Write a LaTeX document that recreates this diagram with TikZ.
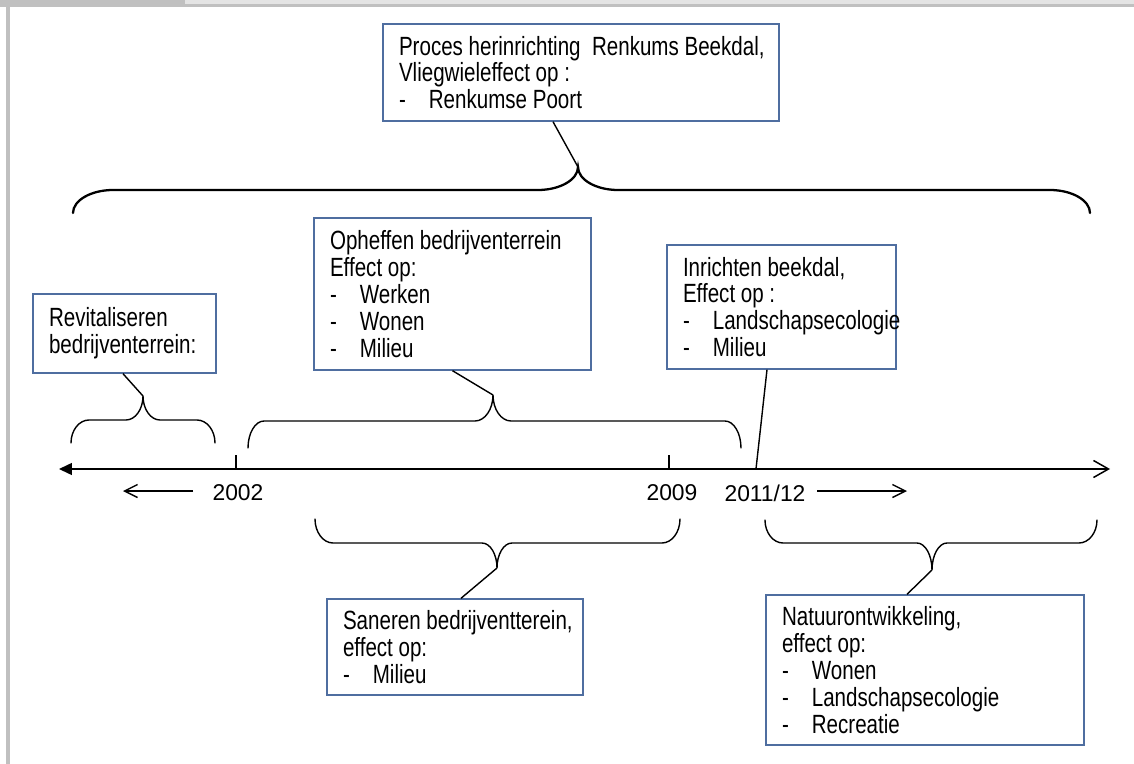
\documentclass[tikz,border=0pt]{standalone}
\usepackage{fontspec}
\usepackage{xcolor}
\definecolor{kaderblauw}{RGB}{79,110,160}
\definecolor{balkdonker}{RGB}{192,192,192}
\definecolor{balklicht}{RGB}{228,228,228}
\newfontfamily\kaderfont[FakeStretch=0.78]{Liberation Sans}
\newfontfamily\jaarfont{Liberation Sans}
\usepackage{tikz}
\usetikzlibrary{arrows.meta}
\tikzset{
  kader/.style={draw=kaderblauw,line width=0.8pt,fill=white,inner xsep=0pt,inner ysep=0pt,
    font=\kaderfont\fontsize{15}{15.3}\selectfont},
  accolade/.style={line width=0.8pt,line cap=round},
  jaar/.style={font=\jaarfont\fontsize{13}{15}\selectfont,inner sep=0pt},
  pijl/.tip={Straight Barb[length=0.26cm,width=0.26cm]}
}
\newcommand{\streep}{\makebox[17pt][l]{-}}
\newcommand{\kadertekst}[2]{\hspace*{0.32cm}\parbox{#1}{\raggedright\hyphenpenalty=10000 #2}}
% accolade: x1,x2,xtop,yeind,ylijn,ytop,hoek,punt
\newcommand{\accolade}[9][]{\draw[accolade,#1] (#2,#5) .. controls (#2,#5+#6*0.55-#5*0.55) and (#2+#8*0.45,#6) .. (#2+#8,#6)
  -- (#4-#9,#6) .. controls (#4-#9*0.45,#6) and (#4,#6+#7*0.45-#6*0.45) .. (#4,#7)
  .. controls (#4,#6+#7*0.45-#6*0.45) and (#4+#9*0.45,#6) .. (#4+#9,#6)
  -- (#3-#8,#6) .. controls (#3-#8*0.45,#6) and (#3,#5+#6*0.55-#5*0.55) .. (#3,#5);}

\begin{document}
\begin{tikzpicture}[x=0.02cm,y=-0.02cm]
\useasboundingbox (0,0) rectangle (1134,764);
% ---- rand ----
\fill[balklicht] (0,0) rectangle (1134,4);
\fill[balkdonker] (0,4) rectangle (1134,7);
\fill[balkdonker] (0,0) rectangle (185,7);
\fill[balkdonker] (6,7) rectangle (10,764);
% ---- tijdlijn ----
\draw[line width=0.85pt,{Triangle[length=0.26cm,width=0.24cm]}-{Straight Barb[length=0.3cm,width=0.34cm]}] (59,469) -- (1110,469);
\draw[line width=0.8pt] (236,455) -- (236,469);
\draw[line width=0.8pt] (669,455) -- (669,469);
\node[jaar] (j2002) at (238,493) {2002};
\node[jaar] (j2009) at (672,493) {2009};
\node[jaar] (j2011) at (765,493) {2011/12};
\coordinate (terug) at (123,491);
\coordinate (verder) at (907,491);
\draw[line width=0.8pt,-pijl] (193,491) -- (terug);
\draw[line width=0.8pt,-pijl] (817,491) -- (verder);
% ---- kaders ----
\node[kader,minimum height=1.94cm] (proces) at (581,72.5)
  {\kadertekst{7.60cm}{Proces herinrichting\ \ Renkums Beekdal,\\Vliegwieleffect op :\\\streep Renkumse Poort}};
\node[kader,minimum height=1.58cm] (revit) at (124.5,333.5)
  {\kadertekst{3.34cm}{Revitaliseren\\bedrijventerrein:}};
\node[kader,minimum height=3.04cm] (opheffen) at (452.5,294)
  {\kadertekst{5.22cm}{Opheffen bedrijventerrein\\Effect op:\\\streep Werken\\\streep Wonen\\\streep Milieu}};
\node[kader,minimum height=2.48cm] (inrichten) at (781.5,307)
  {\kadertekst{4.26cm}{Inrichten beekdal,\\Effect op :\\\streep Landschapsecologie\\\streep Milieu}};
\node[kader,minimum height=1.92cm] (saneren) at (455,647)
  {\kadertekst{4.80cm}{Saneren bedrijventterein,\\effect op:\\\streep Milieu}};
\node[kader,minimum height=3.0cm] (natuur) at (925,670)
  {\kadertekst{6.04cm}{Natuurontwikkeling,\\effect op:\\\streep Wonen\\\streep Landschapsecologie\\\streep Recreatie}};
% ---- accolades ----
\accolade[line width=1.3pt]{73}{1090}{578}{213}{190}{167}{40}{40}
\accolade{71}{215}{143}{443}{420}{396}{18}{17}
\accolade{248}{741}{493}{448}{421}{395}{16}{18}
\accolade{315}{680}{497}{519}{543}{568}{18}{15}
\accolade{765}{1097}{932}{520}{543}{570}{18}{15}
% ---- verbindingen ----
\coordinate (tProces) at (578,167);
\coordinate (tRevit) at (143,396);
\coordinate (tOpheffen) at (493,395);
\coordinate (tInrichten) at (756,469);
\coordinate (tSaneren) at (497,568);
\coordinate (tNatuur) at (932,570);
\draw[line width=0.8pt] ([xshift=-0.56cm]proces.south) -- (tProces);
\draw[line width=0.8pt] ([xshift=-0.03cm]revit.south) -- (tRevit);
\draw[line width=0.8pt] (opheffen.south) -- (tOpheffen);
\draw[line width=0.8pt] ([xshift=-0.29cm]inrichten.south) -- (tInrichten);
\draw[line width=0.8pt] ([xshift=0.12cm]saneren.north) -- (tSaneren);
\draw[line width=0.8pt] ([xshift=-0.36cm]natuur.north) -- (tNatuur);
\end{tikzpicture}
\end{document}
